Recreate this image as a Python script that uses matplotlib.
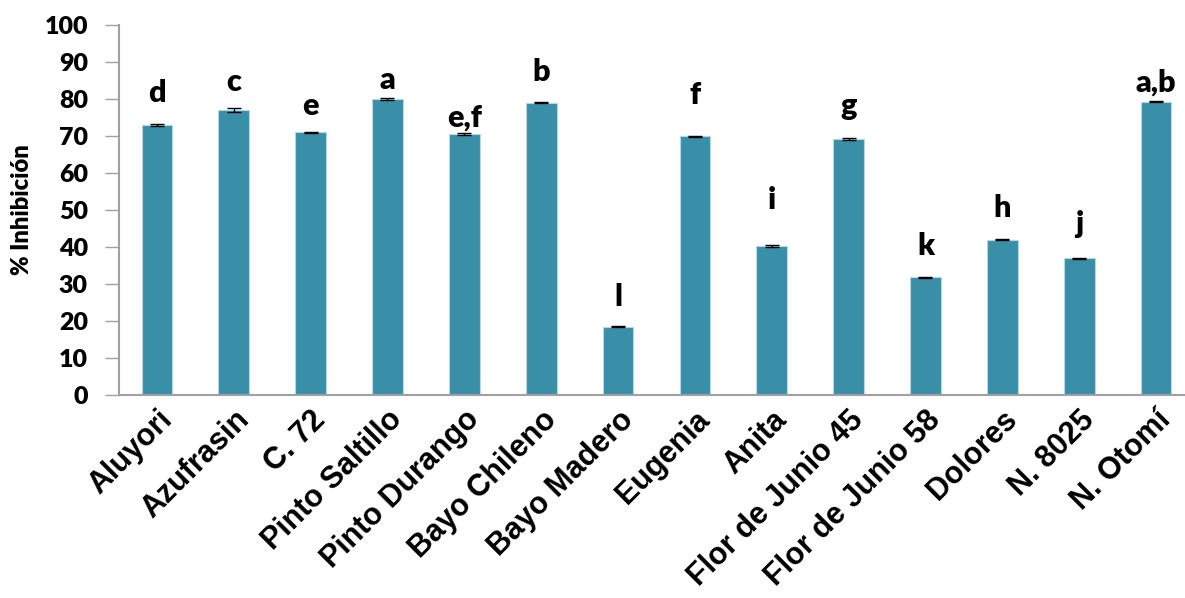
import matplotlib.pyplot as plt
import numpy as np

# Inhibition per bean variety (mean and standard deviation)
varieties = ["Aluyori", "Azufrasin", "C. 72", "Pinto Saltillo", "Pinto Durango",
             "Bayo Chileno", "Bayo Madero", "Eugenia", "Anita", "Flor de Junio 45",
             "Flor de Junio 58", "Dolores", "N. 8025", "N. Otomí"]
inhibition = [73.0, 77.0, 71.0, 80.0, 70.6, 79.0, 18.5, 70.0, 40.3, 69.3, 31.8, 42.0, 37.0, 79.3]
std_dev = [0.15, 0.6, 0.15, 0.3, 0.3, 0.1, 0.1, 0.15, 0.3, 0.3, 0.15, 0.1, 0.15, 0.15]
groups = ["d", "c", "e", "a", "e,f", "b", "l", "f", "i", "g", "k", "h", "j", "a,b"]
group_y = [81.6, 84.6, 78.1, 85.1, 75.1, 87.3, 26.5, 81.1, 52.7, 78.1, 40.3, 50.5, 46.2, 84.6]

bar_color = "#3a8fa8"
axis_color = "#a0a0a0"

fig = plt.figure(figsize=(11.85, 5.98), dpi=100)
ax = fig.add_axes([0.100, 0.3395, 0.908, 0.6185])

x = np.arange(len(varieties))
ax.bar(x, inhibition, width=0.40, color=bar_color, edgecolor="#b5d8e2", linewidth=0.8, zorder=2)
ax.errorbar(x, inhibition, yerr=std_dev, fmt="none", ecolor="black",
            elinewidth=1.0, capsize=5, capthick=1.0, zorder=3)

# significance groups above the bars
for xi, g, gy in zip(x, groups, group_y):
    ax.text(xi, gy, g, ha="center", va="center", fontsize=22,
            fontfamily="Lato", fontweight="heavy", color="black")

ax.set_xlim(-0.5, len(varieties) - 0.5)
ax.set_ylim(0, 100)
ax.set_yticks(np.arange(0, 101, 10))
ax.set_xticks(x)
ax.set_xticklabels(varieties, rotation=45, ha="right", va="top", rotation_mode="anchor",
                   fontsize=22, fontfamily="Liberation Sans", fontweight="bold")
for lbl in ax.get_yticklabels():
    lbl.set_fontfamily("Lato")
    lbl.set_fontweight("heavy")
    lbl.set_fontsize(18)

ax.tick_params(axis="y", direction="out", length=10, width=1, color=axis_color, pad=12)
ax.tick_params(axis="x", length=0, pad=7)
ax.set_ylabel("% Inhibición", fontsize=17, fontfamily="Lato", fontweight="heavy", labelpad=8)

for side in ["top", "right"]:
    ax.spines[side].set_visible(False)
for side in ["left", "bottom"]:
    ax.spines[side].set_color(axis_color)
    ax.spines[side].set_linewidth(1.5)

plt.savefig("out.png", dpi=100)
plt.close("all")
